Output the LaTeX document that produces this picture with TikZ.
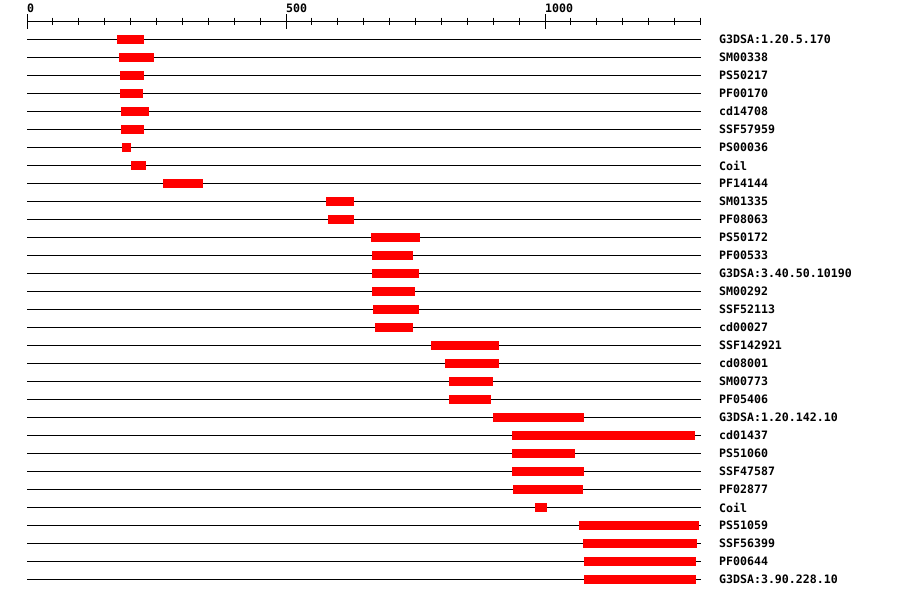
\documentclass[tikz,border=0pt]{standalone}
\usepackage{fontspec}
\usetikzlibrary{positioning}
\newfontfamily\trackfont{DejaVu Sans Mono}
\newcommand\lblfont{\trackfont\bfseries\fontsize{11.6}{12}\selectfont}
\definecolor{hitred}{RGB}{255,0,0}

\begin{document}
\begin{tikzpicture}[x=1pt, y=-1pt,
    track/.style={line width=1pt},
    tick/.style={line width=1pt},
    hit/.style={fill=hitred, draw=none},
    lbl/.style={inner sep=0pt, font=\lblfont},
    num/.style={anchor=base west, inner sep=0pt, font=\lblfont}]
    \useasboundingbox (0,0) rectangle (900,598);
    % scale: 0.518 px per residue, origin at x=27
    \begin{scope}[xshift=27pt, x=0.518pt]
    % ruler
    \draw [tick] (0,21.5) -- (1300,21.5);
    \foreach \t in {0,50,...,1300}
        \draw [tick] (\t,17.5) -- (\t,24.5);
    \foreach \t in {0,500,1000} {
        \draw [tick] (\t,14) -- (\t,28.5);
        \node [num] (tick\t) at (\t,12) {\t};
    }
    % tracks
    \foreach \name/\from/\to [count=\i] in {
        G3DSA:1.20.5.170/174/226, SM00338/178/245, PS50217/180/226,
        PF00170/180/224, cd14708/181/236, SSF57959/181/226,
        PS00036/183/201, Coil/201/230, PF14144/263/340,
        SM01335/577/631, PF08063/581/631, PS50172/664/759,
        PF00533/666/745, G3DSA:3.40.50.10190/666/757, SM00292/666/749,
        SSF52113/668/757, cd00027/672/745, SSF142921/780/911,
        cd08001/807/911, SM00773/815/900, PF05406/815/896,
        G3DSA:1.20.142.10/900/1075, cd01437/936/1290, PS51060/936/1058,
        SSF47587/936/1075, PF02877/938/1073, Coil/981/1004,
        PS51059/1066/1297, SSF56399/1073/1293, PF00644/1075/1292,
        G3DSA:3.90.228.10/1075/1292} {
        \pgfmathsetmacro\y{39.5+(\i-1)*18}
        \draw [track] (0,\y) -- (1301,\y) coordinate (end\i);
        \fill [hit] (\from,\y-4.5) rectangle (\to,\y+4.5);
        \node [lbl, right=18pt of end\i] (lab\i) {\name};
    }
    \end{scope}
\end{tikzpicture}
\end{document}
